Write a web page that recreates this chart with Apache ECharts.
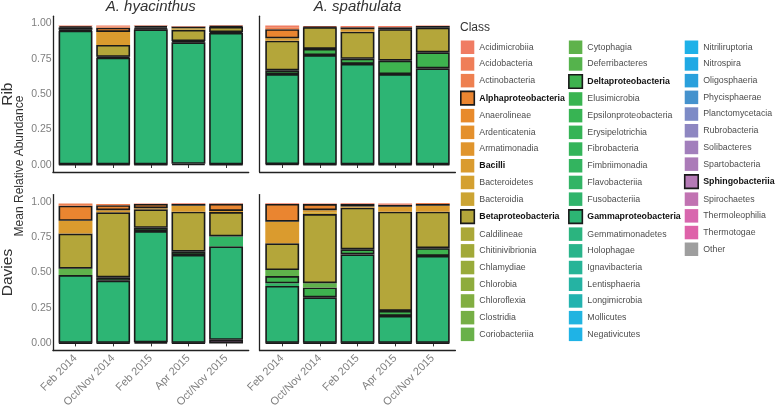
<!DOCTYPE html>
<html><head><meta charset="utf-8">
<script src="https://cdn.jsdelivr.net/npm/echarts@6/dist/echarts.min.js"></script>
<style>html,body{margin:0;padding:0;background:#fff}#c{width:777px;height:411px}</style>
</head><body><div id="c"></div>
<script>
const dates = ['Feb 2014','Oct/Nov 2014','Feb 2015','Apr 2015','Oct/Nov 2015'];
const sites = ['Rib','Davies'];
const species = ['A. hyacinthus','A. spathulata'];
const yTicks = [0, 0.25, 0.5, 0.75, 1];

const classes = ['Acidimicrobiia','Acidobacteria','Actinobacteria','Alphaproteobacteria','Anaerolineae','Ardenticatenia','Armatimonadia','Bacilli','Bacteroidetes','Bacteroidia','Betaproteobacteria','Caldilineae','Chitinivibrionia','Chlamydiae','Chlorobia','Chloroflexia','Clostridia','Coriobacteriia','Cytophagia','Deferribacteres','Deltaproteobacteria','Elusimicrobia','Epsilonproteobacteria','Erysipelotrichia','Fibrobacteria','Fimbriimonadia','Flavobacteriia','Fusobacteriia','Gammaproteobacteria','Gemmatimonadetes','Holophagae','Ignavibacteria','Lentisphaeria','Longimicrobia','Mollicutes','Negativicutes','Nitriliruptoria','Nitrospira','Oligosphaeria','Phycisphaerae','Planctomycetacia','Rubrobacteria','Solibacteres','Spartobacteria','Sphingobacteriia','Spirochaetes','Thermoleophilia','Thermotogae','Other'];
const classColors = ['#F07C63','#EF7E58','#EE8050','#EA8530','#E88A2B','#E4902C','#E0952D','#DA9B2E','#D4A030','#CCA433','#B4A63A','#ABA838','#A2A938','#98AB3A','#8EAC3D','#82AE41','#75AF45','#69B14A','#5FB24B','#55B34C','#3EB34F','#39B451','#37B453','#35B456','#34B45A','#33B45F','#32B465','#30B46B','#2DB574','#2BB47F','#29B48B','#27B497','#25B3A3','#23B3AF','#21B4E0','#1FB3E6','#1EB1E8','#20A9E4','#2AA0DC','#4592CD','#7D8BC6','#8E87C1','#A27FBC','#AB7BB8','#B57AB6','#C173B2','#D867AE','#DE62A9','#9E9E9E'];
const boldClasses = ['Alphaproteobacteria','Bacilli','Betaproteobacteria','Deltaproteobacteria','Gammaproteobacteria','Sphingobacteriia'];
const borderedClasses = ['Alphaproteobacteria','Betaproteobacteria','Deltaproteobacteria','Gammaproteobacteria','Sphingobacteriia'];

// each array: Rib/hyacinthus (5 dates), Rib/spathulata (5), Davies/hyacinthus (5), Davies/spathulata (5)
const acidimicrobiia      = [0.005,0.007,0.004,0.004,0.003, 0.012,0.003,0.008,0.008,0.003, 0,0,0.004,0.005,0.004, 0.005,0.005,0.006,0.008,0];
const actinobacteria      = [0,0.008,0,0,0, 0.014,0,0,0,0, 0.015,0.009,0,0,0, 0,0,0,0,0.006];
const alphaproteobacteria = [0.010,0.030,0.010,0.012,0.006, 0.064,0.006,0.015,0.015,0.012, 0.107,0.035,0.030,0.012,0.050, 0.125,0.043,0.017,0.015,0.012];
const bacilli             = [0,0.092,0,0,0, 0.017,0,0.017,0,0, 0.090,0.015,0.008,0.043,0.008, 0.153,0.015,0.008,0.035,0.043];
const bacteroidia         = [0,0,0,0.011,0, 0,0,0,0,0, 0,0,0,0,0, 0,0.012,0,0,0];
const betaproteobacteria  = [0.016,0.083,0.010,0.080,0.037, 0.209,0.153,0.191,0.222,0.174, 0.248,0.459,0.130,0.282,0.172, 0.188,0.488,0.294,0.700,0.257];
const cytophagia          = [0,0,0,0,0, 0,0,0,0,0, 0.045,0,0,0,0, 0.043,0.030,0,0,0];
const deltaproteobacteria = [0.006,0.007,0.005,0.008,0.006, 0.026,0.043,0.037,0.094,0.113, 0,0.024,0.023,0.023,0, 0.051,0.070,0.036,0.035,0.055];
const flavobacteriia      = [0,0,0,0,0, 0,0,0,0,0, 0,0,0,0,0.070, 0.019,0,0,0,0];
const gammaproteobacteria = [0.944,0.753,0.953,0.858,0.928, 0.636,0.772,0.709,0.638,0.678, 0.478,0.438,0.785,0.620,0.660, 0.401,0.321,0.624,0.190,0.613];
const sphingobacteriia    = [0.004,0.004,0.004,0.008,0.004, 0.006,0.004,0.004,0.004,0.004, 0.004,0.004,0.008,0.004,0.025, 0.004,0.004,0.004,0.004,0.004];

const classValues = {
  Acidimicrobiia: acidimicrobiia, Actinobacteria: actinobacteria, Alphaproteobacteria: alphaproteobacteria,
  Bacilli: bacilli, Bacteroidia: bacteroidia, Betaproteobacteria: betaproteobacteria, Cytophagia: cytophagia,
  Deltaproteobacteria: deltaproteobacteria, Flavobacteriia: flavobacteriia, Gammaproteobacteria: gammaproteobacteria,
  Sphingobacteriia: sphingobacteriia
};

const FONT = '"Liberation Sans", Arial, Helvetica, sans-serif';
const mainLeft = [56.7, 263.4], mainTop = [23.3, 201.7], mainW = 188.2, mainH = 141.7;
const padX = 3.8, padY = 7.1;

const grids = [], xAxes = [], yAxes = [];
for (let s = 0; s < 2; s++) for (let k = 0; k < 2; k++) {
  grids.push({left: mainLeft[k], top: mainTop[s], width: mainW, height: mainH});
}
for (let s = 0; s < 2; s++) for (let k = 0; k < 2; k++) {
  grids.push({left: mainLeft[k] - padX, top: mainTop[s] - padY, width: mainW + 2 * padX, height: mainH + 2 * padY});
}
for (let p = 0; p < 4; p++) {
  const s = Math.floor(p / 2), k = p % 2;
  xAxes.push({gridIndex: p, type: 'category', data: dates, offset: padY,
    axisLine: {show: false},
    axisTick: {show: true, alignWithLabel: true, length: 3, lineStyle: {color: '#333', width: 1}},
    axisLabel: {show: s === 1, rotate: 45, fontSize: 11, color: '#7f7f7f', margin: 6, fontFamily: FONT, interval: 0}
  });
  yAxes.push({gridIndex: p, type: 'value', min: yTicks[0], max: yTicks[yTicks.length - 1], interval: 0.25,
    axisLine: {show: false}, axisTick: {show: false}, splitLine: {show: false},
    axisLabel: {show: k === 0, fontSize: 10.5, color: '#7f7f7f', margin: 5, fontFamily: FONT,
      formatter: v => v.toFixed(2)}
  });
}
for (let p = 0; p < 4; p++) {
  xAxes.push({gridIndex: 4 + p, type: 'value', min: 0, max: 1,
    axisLine: {show: true, onZero: false, lineStyle: {color: '#222', width: 1.3}},
    axisTick: {show: false}, axisLabel: {show: false}, splitLine: {show: false}});
  yAxes.push({gridIndex: 4 + p, type: 'value', min: 0, max: 1,
    axisLine: {show: true, onZero: false, lineStyle: {color: '#222', width: 1.3}},
    axisTick: {show: false}, axisLabel: {show: false}, splitLine: {show: false}});
}

const series = [];
for (let ci = classes.length - 1; ci >= 0; ci--) {
  const name = classes[ci];
  const vals = classValues[name];
  const bordered = borderedClasses.includes(name);
  const style = {color: classColors[ci], borderColor: bordered ? '#1a1a1a' : 'rgba(0,0,0,0)', borderWidth: bordered ? 1.6 : 0};
  if (!vals) {
    series.push({type: 'bar', name, xAxisIndex: 0, yAxisIndex: 0, stack: 'p0', barWidth: '90%', data: [], itemStyle: style, silent: true});
    continue;
  }
  for (let p = 0; p < 4; p++) {
    series.push({type: 'bar', name, xAxisIndex: p, yAxisIndex: p, stack: 'p' + p, barWidth: '90%',
      data: vals.slice(p * 5, p * 5 + 5).map(v => v > 0 ? v : null),
      itemStyle: style, silent: true});
  }
}

const legendData = classes.map((n, i) => ({
  name: n,
  itemStyle: borderedClasses.includes(n) ? {color: classColors[i], borderColor: '#1a1a1a', borderWidth: 1.6} : {color: classColors[i], borderWidth: 0},
  textStyle: boldClasses.includes(n) ? {fontWeight: 'bold', color: '#111'} : {}
}));

const graphics = [];
species.forEach((sp, k) => {
  graphics.push({type: 'text', x: mainLeft[k] + mainW / 2, y: 7,
    style: {text: sp, fontSize: 15, fontStyle: 'italic', fontFamily: FONT, fill: '#333', align: 'center', verticalAlign: 'middle'}});
});
sites.forEach((st, s) => {
  graphics.push({type: 'text', x: 8, y: mainTop[s] + mainH / 2, rotation: Math.PI / 2,
    style: {text: st, fontSize: 15.5, fontFamily: FONT, fill: '#333', align: 'center', verticalAlign: 'middle'}});
});
graphics.push({type: 'text', x: 20, y: 166, rotation: Math.PI / 2,
  style: {text: 'Mean Relative Abundance', fontSize: 12, fontFamily: FONT, fill: '#333', align: 'center', verticalAlign: 'middle'}});
graphics.push({type: 'text', x: 460, y: 28,
  style: {text: 'Class', fontSize: 12, fontFamily: FONT, fill: '#333', align: 'left', verticalAlign: 'middle'}});

const chart = echarts.init(document.getElementById('c'), null, {renderer: 'canvas'});
chart.setOption({
  animation: false,
  backgroundColor: '#fff',
  textStyle: {fontFamily: FONT},
  grid: grids, xAxis: xAxes, yAxis: yAxes, series,
  legend: {type: 'plain', orient: 'vertical', left: 460, top: 40.5, height: 303, padding: 0,
    itemWidth: 13.5, itemHeight: 13.5, itemGap: 3.2, icon: 'rect', selectedMode: false,
    textStyle: {fontSize: 8.8, color: '#4d4d4d', fontFamily: FONT}, data: legendData},
  graphic: graphics
});
</script></body></html>
